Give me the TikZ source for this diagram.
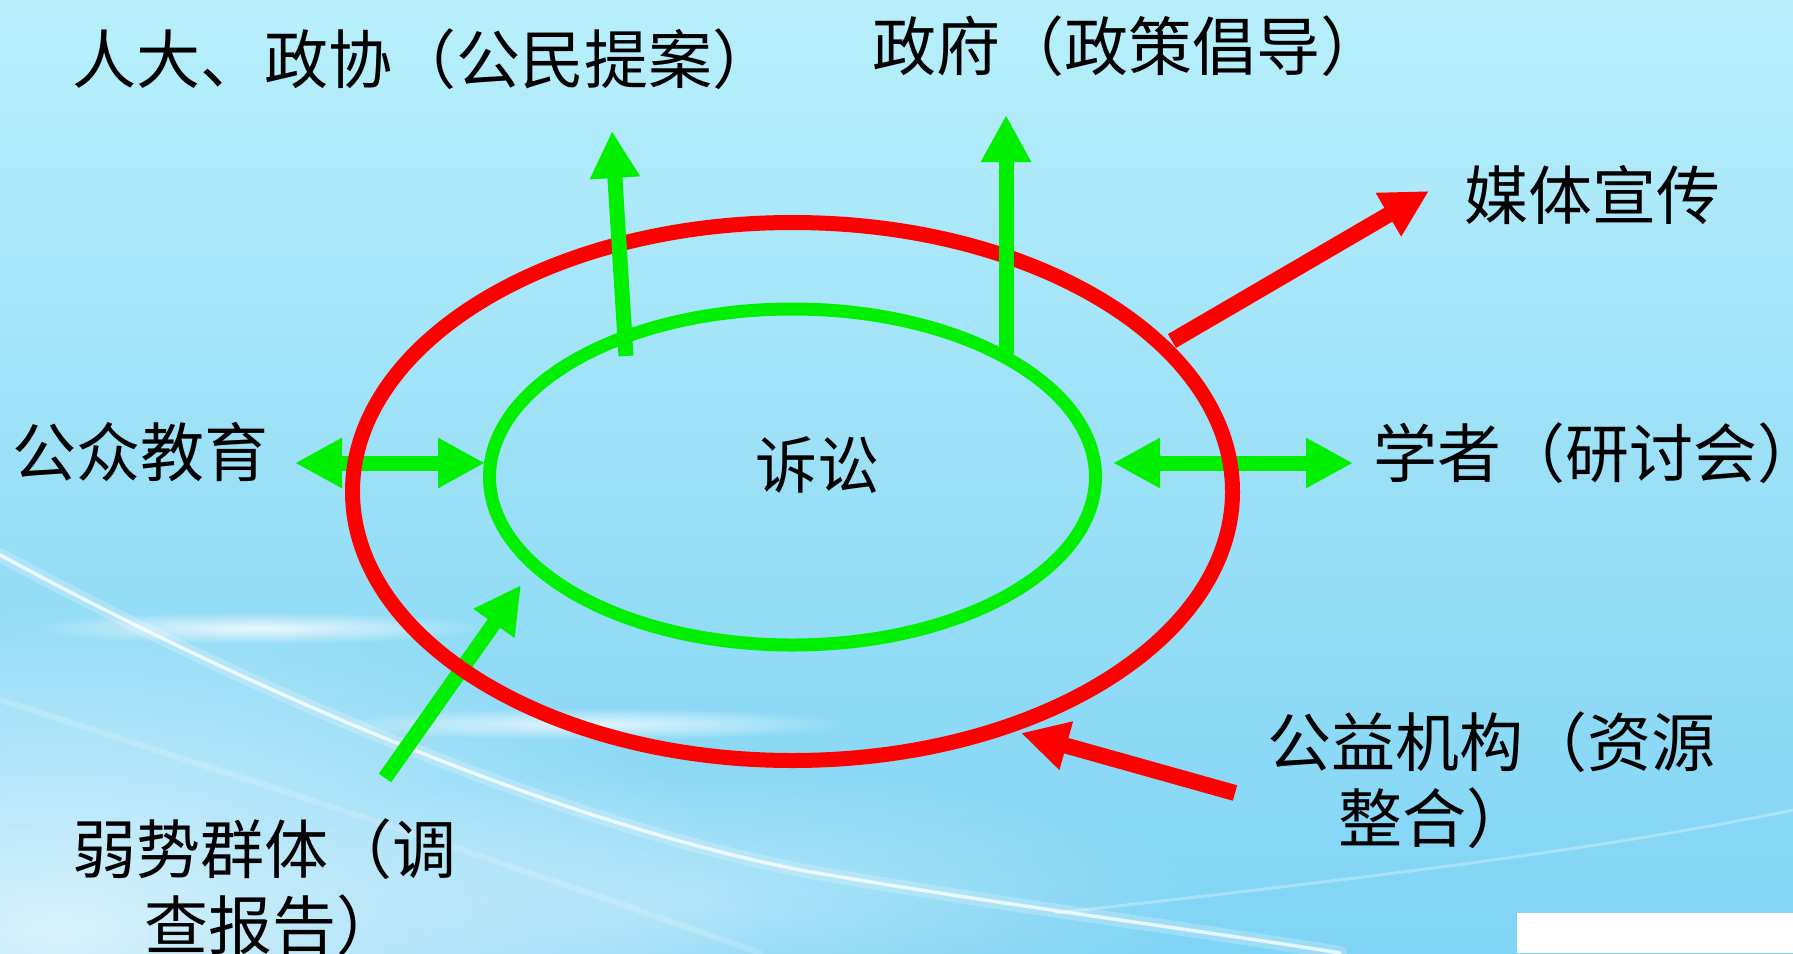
\documentclass[tikz,border=0pt]{standalone}
\usepackage{fontspec}
\newfontfamily\cjk{Noto Sans CJK SC}
\usetikzlibrary{arrows.meta,fadings}
\definecolor{bgtop}{HTML}{B8EFFB}
\definecolor{bgmid}{HTML}{9BE0F7}
\definecolor{bgbot}{HTML}{80D4F5}
\definecolor{arrgreen}{HTML}{00F000}
\definecolor{arrred}{HTML}{FF0000}
\tikzfading[name=softout, inner color=transparent!0, outer color=transparent!100]
\begin{document}
\begin{tikzpicture}[x=1pt,y=-1pt,
  garrow/.style={draw=arrgreen, line width=15pt, -{Triangle[length=47pt,width=47pt]}},
  garrowd/.style={draw=arrgreen, line width=15pt, {Triangle[length=47pt,width=47pt]}-{Triangle[length=47pt,width=47pt]}},
  rarrow/.style={draw=arrred, line width=16pt, -{Triangle[length=47pt,width=47pt]}},
  lbl/.style={font=\cjk\fontsize{64}{76}\selectfont, inner sep=0pt, anchor=west, align=left, text=black},
  glow/.style={fill=white, path fading=softout},
  swoosh/.style={draw=white, line cap=round}]
% background
\useasboundingbox (0,0) rectangle (1793,953);
\shade[top color=bgtop, bottom color=bgbot, middle color=bgmid] (0,0) rectangle (1793,953);
% soft haze bottom-left
\fill[glow, opacity=0.7] (60,930) ellipse [x radius=700pt, y radius=330pt];
\fill[glow, opacity=0.35] (700,900) ellipse [x radius=500pt, y radius=140pt];
% glow bands
\fill[glow, opacity=0.8] (260,628) ellipse [x radius=230pt, y radius=16pt];
\fill[glow, opacity=0.75] (590,724) ellipse [x radius=260pt, y radius=16pt];
% main thin swoosh
\draw[swoosh, opacity=0.22, line width=14pt] (0,555) .. controls (250,690) and (550,820) .. (800,870) .. controls (1000,905) and (1200,930) .. (1340,953);
\draw[swoosh, opacity=0.75, line width=3.5pt] (0,555) .. controls (250,690) and (550,820) .. (800,870) .. controls (1000,905) and (1200,930) .. (1340,953);
\draw[swoosh, opacity=0.18, line width=6pt] (0,700) .. controls (250,780) and (500,860) .. (760,953);
% faint rising line right
\draw[swoosh, opacity=0.3, line width=3pt] (1055,913) .. controls (1350,880) and (1600,850) .. (1793,810);
% white box bottom right
\fill[white] (1517,913) rectangle (1793,953);
% coordinates
\coordinate (lt) at (295,463);
\coordinate (lh) at (485,463);
\coordinate (rt) at (1113,463);
\coordinate (rh) at (1353,463);
\coordinate (bls) at (385,778);
\coordinate (ble) at (521,585);
\coordinate (tls) at (626,356);
\coordinate (tle) at (612,131);
\coordinate (trs) at (1006,354);
\coordinate (tre) at (1006,115);
\coordinate (mrs) at (1172,341);
\coordinate (mre) at (1429,191);
\coordinate (brs) at (1235,793);
\coordinate (bre) at (1021,733);
% arrows under the red ring
\draw[garrowd] (lt) -- (lh);
\draw[garrowd] (rt) -- (rh);
\draw[garrow] (bls) -- (ble);
% rings
\draw[draw=arrred, line width=15pt] (792.5,491.5) ellipse [x radius=440pt, y radius=269pt];
\draw[draw=arrgreen, line width=13pt] (792.5,477) ellipse [x radius=303pt, y radius=168pt];
% arrows over the ring
\draw[garrow] (tls) -- (tle);
\draw[garrow] (trs) -- (tre);
\draw[rarrow] (mrs) -- (mre);
\draw[rarrow] (brs) -- (bre);
% labels
\node[lbl, anchor=center, font=\cjk\fontsize{62}{74}\selectfont] (ss) at (817,465) {诉讼};
\node[lbl] (rd) at (72,59) {人大、政协（公民提案）};
\node[lbl] (zf) at (872,46) {政府（政策倡导）};
\node[lbl] (mt) at (1464,195) {媒体宣传};
\node[lbl] (gz) at (12,452) {公众教育};
\node[lbl] (xz) at (1373,453) {学者（研讨会）};
\node[lbl] (gy) at (1267,780) {公益机构（资源\\\hspace*{71pt}整合）};
\node[lbl] (rs) at (72,887) {弱势群体（调\\\hspace*{72pt}查报告）};
\end{tikzpicture}
\end{document}
